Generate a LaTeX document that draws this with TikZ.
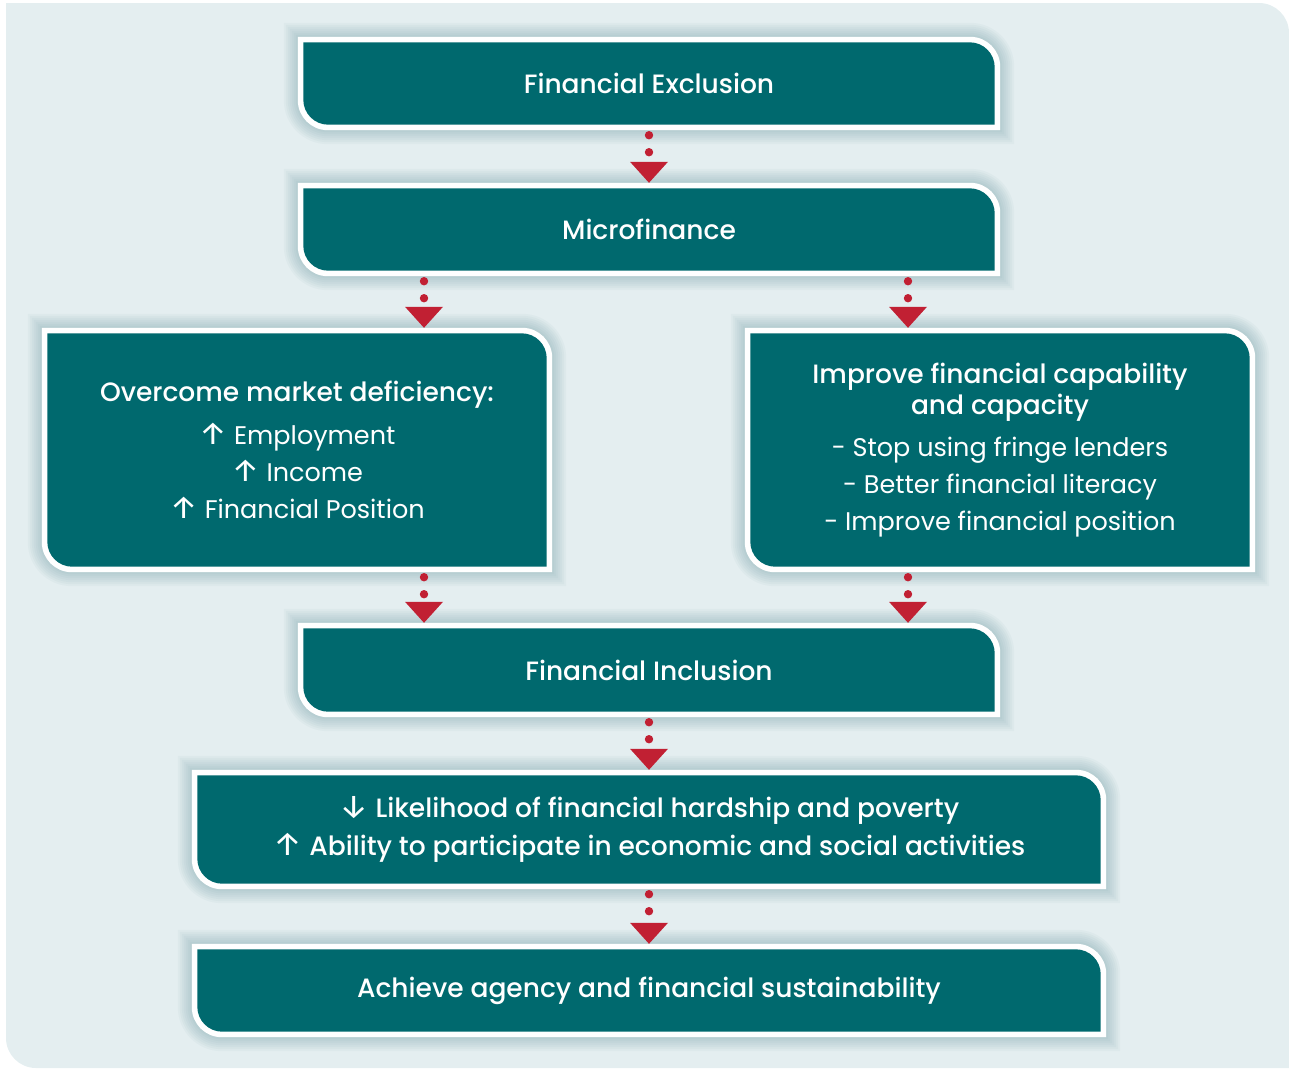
\documentclass[tikz,border=0pt]{standalone}
\usepackage{fontspec}
\setmainfont{Poppins}[BoldFont={Poppins Medium}]
\newfontfamily\arrowfont{Fira Sans}[Scale=1.25]
\usetikzlibrary{backgrounds,calc}
\definecolor{tealc}{RGB}{0,105,110}
\definecolor{bgc}{RGB}{228,238,240}
\definecolor{redc}{RGB}{193,32,51}
\definecolor{glowc}{RGB}{70,130,138}
\newcommand\ttl{\fontsize{26.5}{37}\selectfont\bfseries}
\newcommand\arr[1]{{\arrowfont\mdseries #1}}
\tikzset{
  boxpath/.style n args={3}{insert path={
    ([shift={({#2},{-(#2)})}]#1.north west) --
    ([shift={({-(#3)-(#2)},{-(#2)})}]#1.north east) arc(90:0:#3) --
    ([shift={({-(#2)},{#2})}]#1.south east) --
    ([shift={({(#3)+(#2)},{#2})}]#1.south west) arc(270:180:#3) -- cycle}},
  tbox/.style={text=white, align=center, inner sep=0pt,
    font=\fontsize{25.5}{37}\selectfont},
}
\newcommand\flowarrow[2]{%
  \coordinate (s) at (#1); \coordinate (t) at (#2);
  \fill[redc] ([yshift=-5pt]s) circle (4.2);
  \fill[redc] ([yshift=-22pt]s) circle (4.2);
  \fill[redc] ([shift={(-19,21)}]t) -- ([shift={(19,21)}]t) -- (t) -- cycle;
}
\newcommand\drawflowbox[1]{%
  \foreach \g in {14,12,10,8,6,4,2}{%
    \pgfmathsetmacro\rr{30+\g}
    \fill[glowc, opacity=0.045, boxpath={#1}{-\g}{\rr}];
  }
  \fill[white, boxpath={#1}{0}{30}];
  \fill[tealc, boxpath={#1}{5.5}{25}];
}
\begin{document}
\begin{tikzpicture}[x=1pt,y=1pt]
\useasboundingbox (0,0) rectangle (1289,-1068);
\coordinate (lx) at (424,0);
\coordinate (rx) at (908,0);

\node[tbox, minimum width=702, minimum height=93] (fe) at (649,-83.5)
  {\ttl Financial Exclusion};
\node[tbox, minimum width=702, minimum height=93] (mf) at (649,-229.5)
  {\ttl Microfinance};
\node[tbox, minimum width=510, minimum height=244] (om) at (297,-450)
  {{\ttl Overcome market deficiency:}\\[6pt]
   \arr{↑} Employment\\
   \arr{↑} Income\\
   \arr{↑} Financial Position};
\node[tbox, minimum width=510, minimum height=244] (ic) at (1000,-450)
  {{\ttl Improve financial capability}\\[-6pt]
   {\ttl and capacity}\\[5pt]
   - Stop using fringe lenders\\
   - Better financial literacy\\
   - Improve financial position};
\node[tbox, minimum width=702, minimum height=94] (fi) at (649,-670)
  {\ttl Financial Inclusion};
\node[tbox, minimum width=914, minimum height=119] (lk) at (649,-829.5)
  {\ttl \arr{↓} Likelihood of financial hardship and poverty\\[1pt]
   \ttl \arr{↑} Ability to participate in economic and social activities};
\node[tbox, minimum width=914, minimum height=93] (ac) at (649,-990.5)
  {\ttl Achieve agency and financial sustainability};

\begin{scope}[on background layer]
  \fill[bgc] (6,-3) -- (1259,-3) arc(90:0:30) -- (1289,-1068) -- (36,-1068)
    arc(270:180:30) -- cycle;
  \drawflowbox{fe}
  \drawflowbox{mf}
  \drawflowbox{om}
  \drawflowbox{ic}
  \drawflowbox{fi}
  \drawflowbox{lk}
  \drawflowbox{ac}
\end{scope}

\flowarrow{fe.south}{mf.north}
\flowarrow{mf.south -| lx}{om.north -| lx}
\flowarrow{mf.south -| rx}{ic.north -| rx}
\flowarrow{om.south -| lx}{fi.north -| lx}
\flowarrow{ic.south -| rx}{fi.north -| rx}
\flowarrow{fi.south}{lk.north}
\flowarrow{lk.south}{ac.north}
\end{tikzpicture}
\end{document}
